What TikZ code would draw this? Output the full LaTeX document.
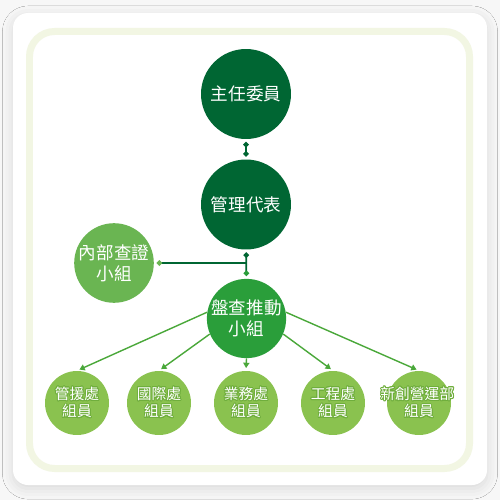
\documentclass[tikz,border=0pt]{standalone}
\usepackage{fontspec}
\newfontfamily\cjk{Noto Sans CJK TC}
\usepackage{tikz}
\usepackage{contour}
\usetikzlibrary{arrows.meta}
\usetikzlibrary{positioning}
\usetikzlibrary{calc}
\usetikzlibrary{shadows.blur}
\definecolor{deepgreen}{HTML}{006633}
\definecolor{midgreen}{HTML}{2A9E3A}
\definecolor{softgreen}{HTML}{6AB552}
\definecolor{leafgreen}{HTML}{8AC24F}
\definecolor{halogreen}{HTML}{6FAE3C}
\definecolor{linegreen}{HTML}{4AA83A}
\definecolor{framegreen}{HTML}{F2F6E3}
\contourlength{0.5pt}
\tikzset{basic unit/.style={circle,draw=none,text=white,align=center,inner sep=0pt}}
\tikzset{unit/.style={basic unit,minimum size=1.8cm,font={\cjk\fontsize{10}{12}\selectfont}}}
\tikzset{link/.style={draw,
                      line width=1pt,
                      shorten <=1.5pt,
                      shorten >=1.5pt}}
\newcommand{\HALO}[1]{\makebox[0pt]{\contour{halogreen}{#1}}}

\begin{document}
\begin{tikzpicture}
      [
      x=0.02cm,y=-0.02cm,
      team unit/.style={unit,minimum size=1.57cm},
      group unit/.style={basic unit,
      minimum size=1.28cm,
      fill=leafgreen,
      font={\cjk\fontsize{8.4}{9.8}\selectfont}},
      ]

      % card
      \useasboundingbox (0,0) rectangle (500,500);
      \fill [gray!6] (0,0) rectangle (500,500);
      \fill [white,rounded corners=0.3cm,
      blur shadow={shadow xshift=0pt,shadow yshift=-2pt,shadow blur radius=6pt,shadow opacity=12}]
      (13,13) rectangle (487,485);
      \draw [framegreen,line width=0.14cm,rounded corners=0.5cm] (29.5,31.5) rectangle (469.5,468.5);

      % vertices
      \node [unit,fill=deepgreen] (U1) at (246,94) {主任委員};
      \node [unit,fill=deepgreen] (U2) at (246,204.5) {管理代表};
      \node [team unit,fill=softgreen] (U3) at (114,263) {內部查證\\小組};
      \node [team unit,fill=midgreen] (U4) at (246.5,318.5) {盤查推動\\小組};

      \foreach \i/\x/\l in
      {
      1/77/管援處,
      2/159/國際處,
      3/246/業務處,
      4/333/工程處,
      5/419/新創營運部
      }
      {
      \node [group unit] (B\i) at (\x,403) {\HALO{\l}\\\HALO{組員}};
      }

      % edges
      \path [link,deepgreen,{Circle[length=3pt]}-{Circle[length=3pt]}] (U1) -- (U2);
      \coordinate (J) at (246.5,263);
      \path [link,deepgreen,{Circle[length=3pt]}-{Circle[length=3pt,midgreen]}] (U2) -- (U4);
      \path [link,deepgreen,shorten <=0pt,-{Circle[length=3pt,softgreen]}] (J) -- (U3.east);

      % outgoing edges
      \foreach \i/\a in {1/171,2/203,3/270,4/337,5/9}
      {
      \path [link,linegreen,line width=0.8pt,shorten <=0pt,-{Triangle[length=3pt,width=3.5pt]}] (U4.\a) -- (B\i.north);
      }

    \end{tikzpicture}
\end{document}
